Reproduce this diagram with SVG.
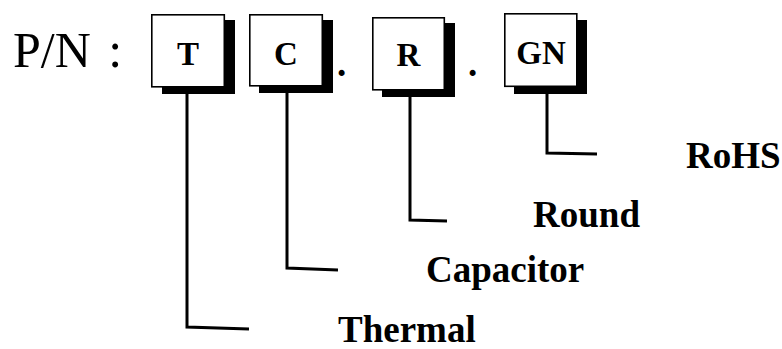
<svg xmlns="http://www.w3.org/2000/svg" width="782" height="349" viewBox="0 0 782 349">
<style>
.box{fill:#fff;stroke:#000;stroke-width:1.6}
.shadow{fill:#000}
.serif{font-family:'Liberation Serif','Times New Roman',serif}
.code{font-weight:bold;font-size:33px;text-anchor:middle;fill:#000}
.lbl{font-weight:bold;font-size:37px;fill:#000}
.pn{font-size:50px;fill:#000}
.conn{fill:none;stroke:#000;stroke-width:3;stroke-linejoin:miter}
</style>
<rect width="782" height="349" fill="#fff"/>
<text class="serif pn" x="13" y="67">P/N<tspan dx="5"> :</tspan></text>
<g id="connectors">
<path class="conn" d="M187,88 V327 L249,329"/>
<path class="conn" d="M287,88 V268 L338,270"/>
<path class="conn" d="M410,90 V220 L447,221"/>
<path class="conn" d="M547,88 V153 L597,154"/>
</g>
<g id="node-T">
<rect class="shadow" x="162" y="20" width="73" height="74"/>
<rect class="box" x="151.8" y="14.8" width="72.5" height="72"/>
<text class="serif code" x="188" y="65">T</text>
</g>
<g id="node-C">
<rect class="shadow" x="259" y="20" width="74" height="73"/>
<rect class="box" x="249.8" y="14.8" width="72.5" height="71"/>
<text class="serif code" x="286" y="65">C</text>
</g>
<text class="serif lbl" x="337" y="76">.</text>
<g id="node-R">
<rect class="shadow" x="382" y="23" width="73" height="74"/>
<rect class="box" x="372.8" y="17.8" width="71.5" height="72"/>
<text class="serif code" x="408.5" y="66">R</text>
</g>
<text class="serif lbl" x="468" y="76">.</text>
<g id="node-GN">
<rect class="shadow" x="514" y="20" width="73" height="74"/>
<rect class="box" x="504.8" y="13.8" width="72" height="72.5"/>
<text class="serif code" x="541" y="64">GN</text>
</g>
<g id="labels">
<text class="serif lbl" x="686" y="168">RoHS</text>
<text class="serif lbl" x="533" y="227">Round</text>
<text class="serif lbl" x="426" y="282">Capacitor</text>
<text class="serif lbl" x="338" y="342">Thermal</text>
</g>
</svg>
